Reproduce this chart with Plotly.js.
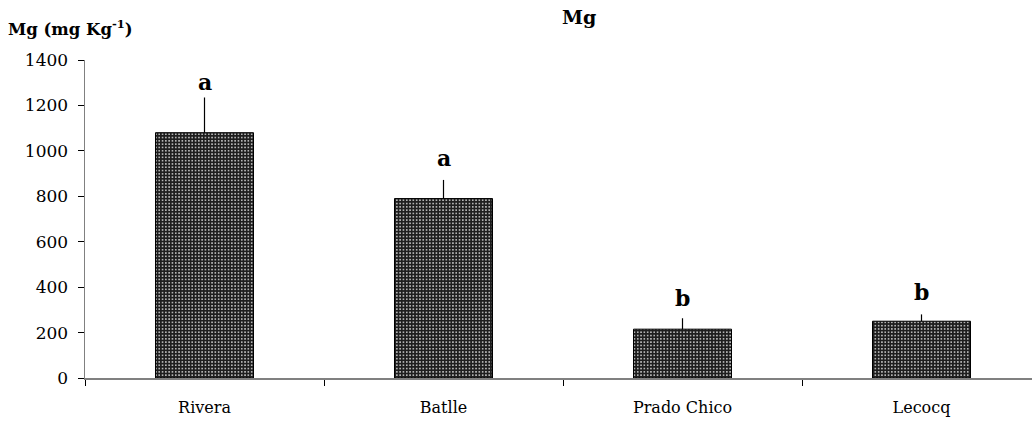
<!DOCTYPE html>
<html>
<head>
<meta charset="utf-8">
<script src="https://cdn.plot.ly/plotly-3.0.1.min.js"></script>
<style>
html,body{margin:0;padding:0;overflow:hidden;background:#fff;width:1032px;height:421px;}
#chart{width:1050px;height:421px;}
</style>
</head>
<body>
<div id="chart"></div>
<script>
const categories = ["Rivera", "Batlle", "Prado Chico", "Lecocq"];
const mgValues = [1080, 790, 215, 250];
const mgErrors = [155, 82, 48, 30];
const letters = ["a", "a", "b", "b"];
const letterY = [1303, 969, 352, 379];

const FONT = "DejaVu Serif, Liberation Serif, serif";

const trace = {
  type: "bar",
  x: categories,
  y: mgValues,
  width: 0.41,
  marker: {
    color: "#111111",
    line: {color: "#000000", width: 1},
    pattern: {shape: ".", bgcolor: "#1e1e1e", fgcolor: "#d8d8d8", size: 3.3, solidity: 0.22}
  },
  error_y: {
    type: "data",
    symmetric: false,
    array: mgErrors,
    arrayminus: mgErrors.map(() => 0),
    color: "#000000",
    thickness: 1.2,
    width: 0
  },
  hoverinfo: "skip"
};

const annotations = categories.map((c, i) => ({
  x: c, y: letterY[i], xref: "x", yref: "y",
  text: "<b>" + letters[i] + "</b>",
  showarrow: false,
  font: {family: FONT, size: 22, color: "#000"}
}));
annotations.push({
  xref: "paper", yref: "paper", x: 0.517, y: 1.175, xanchor: "center",
  text: "<b>Mg</b>", showarrow: false,
  font: {family: FONT, size: 19, color: "#000"}
});
annotations.push({
  xref: "paper", yref: "paper", x: -0.083, y: 1.14, xanchor: "left",
  text: "<b>Mg (mg Kg<sup>-1</sup>)</b>", showarrow: false,
  font: {family: FONT, size: 16.5, color: "#000"}
});

const layout = {
  width: 1050,
  height: 421,
  margin: {l: 85, r: 9, t: 60, b: 43},
  paper_bgcolor: "#fff",
  plot_bgcolor: "#fff",
  showlegend: false,
  bargap: 0.59,
  xaxis: {
    type: "category",
    range: [-0.5, 3.5],
    showline: true, linecolor: "#808080", linewidth: 1.5,
    ticks: "outside", tickson: "boundaries", ticklen: 6, tickcolor: "#000", tickwidth: 1,
    ticklabelstandoff: 14,
    showgrid: false, zeroline: false,
    tickfont: {family: FONT, size: 16, color: "#000"}
  },
  yaxis: {
    range: [0, 1400],
    dtick: 200,
    showline: true, linecolor: "#808080", linewidth: 1.5,
    ticks: "outside", ticklen: 6, tickcolor: "#000", tickwidth: 1,
    ticklabelstandoff: 6,
    showgrid: false, zeroline: false,
    tickfont: {family: FONT, size: 17, color: "#000"}
  },
  annotations: annotations
};

Plotly.newPlot("chart", [trace], layout, {displayModeBar: false, staticPlot: true});
</script>
</body>
</html>
